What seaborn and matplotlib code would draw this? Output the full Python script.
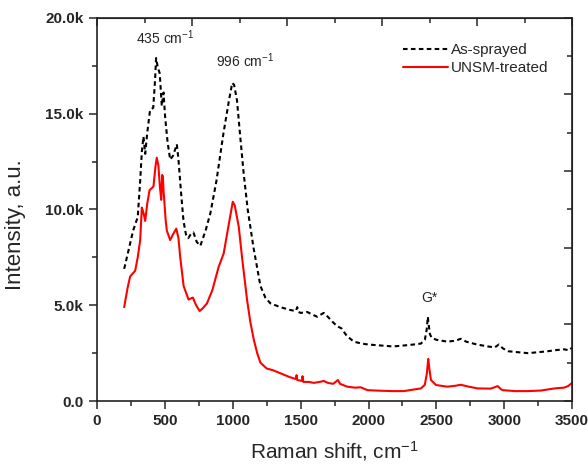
import numpy as np
import pandas as pd
import matplotlib
matplotlib.use("Agg")
import matplotlib.pyplot as plt
from matplotlib.ticker import MultipleLocator, FuncFormatter
import seaborn as sns

# Raman spectra (shift in cm-1, intensity in counts)
as_sprayed_x = [200, 230, 266, 300, 318, 330, 342, 355, 370, 391, 414, 428, 435, 448, 462,
                477, 490, 502, 520, 539, 560, 588, 600, 620, 637, 655, 672, 690, 710, 735,
                761, 800, 835, 880, 932, 970, 996, 1010, 1031, 1055, 1080, 1110, 1153, 1204,
                1240, 1277, 1351, 1425, 1465, 1475, 1485, 1500, 1548, 1590, 1622, 1670, 1700,
                1740, 1770, 1800, 1840, 1892, 1950, 2000, 2090, 2180, 2260, 2330, 2386, 2415,
                2428, 2437, 2443, 2452, 2465, 2500, 2580, 2640, 2680, 2720, 2800, 2880, 2930,
                2960, 2990, 3030, 3100, 3174, 3250, 3320, 3370, 3440, 3480, 3500]
as_sprayed_y = [6900, 7800, 8900, 9600, 11500, 13000, 13800, 12900, 14000, 15200, 15300, 16800,
                17900, 17400, 17100, 15400, 16100, 14800, 13500, 12600, 12800, 13400, 12600,
                10800, 9400, 8700, 8500, 8700, 8800, 8300, 8100, 8900, 9800, 11500, 14000,
                15600, 16600, 16500, 15700, 13800, 11900, 10000, 8000, 6000, 5400, 5100, 4900,
                4750, 4700, 4900, 4650, 4600, 4650, 4500, 4400, 4600, 4400, 4100, 3900, 3800,
                3400, 3100, 3000, 2950, 2900, 2850, 2900, 2950, 3000, 3200, 3700, 4400, 4000,
                3500, 3300, 3200, 3100, 3150, 3250, 3100, 2950, 2850, 2800, 2950, 2750, 2600,
                2550, 2500, 2550, 2600, 2650, 2700, 2650, 2800]

unsm_x = [200, 225, 244, 281, 300, 318, 330, 343, 355, 370, 387, 416, 430, 440, 452, 463,
          473, 480, 485, 490, 495, 505, 514, 539, 560, 584, 600, 613, 638, 674, 690, 706,
          730, 756, 780, 810, 850, 896, 933, 970, 1000, 1015, 1044, 1070, 1105, 1130, 1155,
          1180, 1204, 1250, 1300, 1351, 1420, 1465, 1470, 1475, 1510, 1514, 1520, 1560, 1597,
          1640, 1670, 1700, 1740, 1775, 1790, 1844, 1900, 1942, 1992, 2090, 2180, 2260, 2330,
          2386, 2415, 2430, 2440, 2448, 2460, 2497, 2580, 2640, 2680, 2740, 2804, 2900, 2952,
          2975, 2989, 3080, 3174, 3270, 3370, 3440, 3470, 3500]
unsm_y = [4900, 5900, 6500, 6800, 7500, 8400, 10100, 9800, 9400, 10300, 11000, 11200, 12200,
          12700, 12300, 11200, 10500, 11800, 11700, 11000, 10500, 9500, 8900, 8400, 8700, 9000,
          8500, 7500, 6000, 5300, 5350, 5400, 5000, 4700, 4850, 5100, 5800, 7000, 7700, 9200,
          10400, 10200, 9100, 7400, 5300, 4100, 3200, 2500, 2000, 1700, 1600, 1450, 1250, 1150,
          1350, 1100, 1050, 1300, 1000, 1000, 950, 1000, 1050, 950, 900, 1100, 900, 750, 700,
          720, 570, 540, 520, 520, 600, 660, 850, 1450, 2200, 1700, 1100, 840, 750, 800, 850,
          750, 660, 650, 780, 620, 570, 520, 520, 550, 660, 700, 780, 950]

series_names = ["As-sprayed", "UNSM-treated"]
series_colors = ["black", "#ff0000"]

df = pd.concat([
    pd.DataFrame({"shift": as_sprayed_x, "intensity": as_sprayed_y, "sample": series_names[0]}),
    pd.DataFrame({"shift": unsm_x, "intensity": unsm_y, "sample": series_names[1]}),
])

sns.set_style("ticks")
plt.rcParams["font.family"] = ["Liberation Sans", "DejaVu Sans"]
plt.rcParams["mathtext.default"] = "regular"

fig = plt.figure(figsize=(5.88, 4.68), dpi=100)
ax = fig.add_axes([0.165, 0.143, 0.808, 0.819])

sns.lineplot(data=df, x="shift", y="intensity", hue="sample", style="sample",
             palette=dict(zip(series_names, series_colors)),
             dashes={series_names[0]: (2.2, 1.6), series_names[1]: ""},
             linewidth=1.5, ax=ax, legend=False, estimator=None, sort=False)

ax.set_xlim(0, 3500)
ax.set_ylim(0, 20000)
ax.xaxis.set_major_locator(MultipleLocator(500))
ax.xaxis.set_minor_locator(MultipleLocator(250))
ax.yaxis.set_major_locator(MultipleLocator(5000))
ax.yaxis.set_minor_locator(MultipleLocator(2500))
ax.yaxis.set_major_formatter(FuncFormatter(lambda v, p: "0.0" if v == 0 else f"{v/1000:.1f}k"))
ax.tick_params(which="major", direction="out", length=6, width=1.1, labelsize=11)
ax.tick_params(which="minor", direction="out", length=3.5, width=1.1)
for lab in ax.get_xticklabels() + ax.get_yticklabels():
    lab.set_fontweight("bold")
for sp in ax.spines.values():
    sp.set_linewidth(1.2)
    sp.set_color("#222222")

# top and right axes carry their own inward ticks
top = ax.secondary_xaxis("top")
top.xaxis.set_major_locator(MultipleLocator(700))
top.xaxis.set_minor_locator(MultipleLocator(350))
top.tick_params(which="both", direction="in", labeltop=False, width=1.1)
top.tick_params(which="major", length=6)
top.tick_params(which="minor", length=3.5)
right = ax.secondary_yaxis("right")
right.yaxis.set_major_locator(MultipleLocator(4000))
right.yaxis.set_minor_locator(MultipleLocator(2000))
right.tick_params(which="both", direction="in", labelright=False, width=1.1)
right.tick_params(which="major", length=6)
right.tick_params(which="minor", length=3.5)

ax.set_xlabel("Raman shift, cm$^{-1}$", fontsize=15, labelpad=8)
ax.set_ylabel("Intensity, a.u.", fontsize=16)
ax.yaxis.set_label_coords(-0.15, 0.46)

ax.text(500, 18500, "435 cm$^{-1}$", fontsize=10, ha="center", va="bottom")
ax.text(1090, 17300, "996 cm$^{-1}$", fontsize=10, ha="center", va="bottom")
ax.text(2445, 5000, "G*", fontsize=10, ha="center", va="bottom")

handles = [plt.Line2D([], [], color=series_colors[0], lw=1.5, dashes=(2.2, 1.6)),
           plt.Line2D([], [], color=series_colors[1], lw=1.5)]
ax.legend(handles, series_names, loc="upper right", frameon=False, fontsize=11,
          handlelength=2.9, handletextpad=0.25, labelspacing=0.25,
          bbox_to_anchor=(0.98, 0.97))

fig.savefig("out.png", dpi=100)
